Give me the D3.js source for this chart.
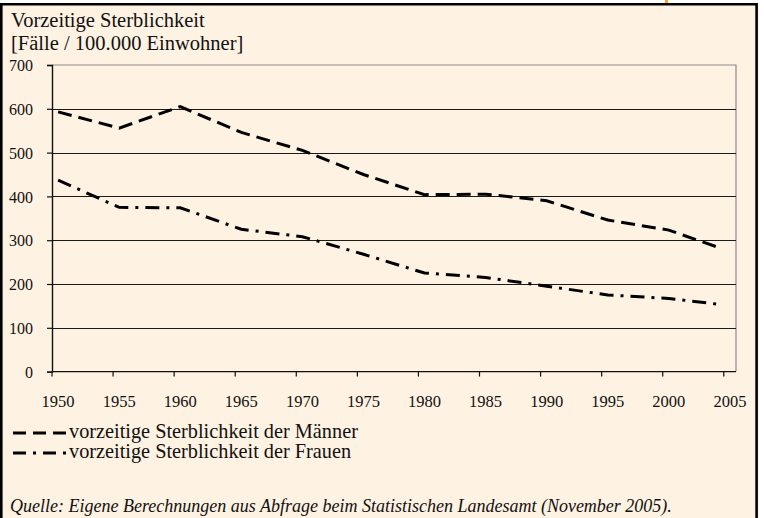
<!DOCTYPE html>
<html>
<head>
<meta charset="utf-8">
<script src="https://cdn.jsdelivr.net/npm/d3@7/dist/d3.min.js"></script>
<style>
  html, body { margin: 0; padding: 0; background: #ffffff; }
  svg { display: block; }
  svg text { font-family: "Liberation Serif", "Times New Roman", "DejaVu Serif", serif; fill: #111; }
</style>
</head>
<body>
<svg id="chart" width="764" height="518"></svg>
<script>
// Premature mortality per 100,000 inhabitants
const categories = d3.range(1950, 2006);          // yearly category axis 1950..2005
const dataYears = [1950, 1955, 1960, 1965, 1970, 1975, 1980, 1985, 1990, 1995, 2000, 2004];
const maenner   = [593, 556, 605, 546, 505, 450, 404, 405, 390, 346, 323, 284];
const frauen    = [437, 375, 374, 325, 308, 268, 225, 215, 195, 175, 167, 154];
const yTicks = [0, 100, 200, 300, 400, 500, 600, 700];
const xTickLabels = [1950, 1955, 1960, 1965, 1970, 1975, 1980, 1985, 1990, 1995, 2000, 2005];

const titleLines = ["Vorzeitige Sterblichkeit", "[Fälle / 100.000 Einwohner]"];
const legendLabels = ["vorzeitige Sterblichkeit der Männer", "vorzeitige Sterblichkeit der Frauen"];
const sourceText = "Quelle: Eigene Berechnungen aus Abfrage beim Statistischen Landesamt (November 2005).";

const FONT = '"Liberation Serif", "Times New Roman", serif';
const svg = d3.select("#chart");

// panel background and frame
svg.append("rect").attr("x", 0).attr("y", 3).attr("width", 759).attr("height", 515).attr("fill", "#fef2e2");
svg.append("path")
  .attr("d", "M1.3,518 V4.2 H756.6 V518")
  .attr("fill", "none").attr("stroke", "#000").attr("stroke-width", 2.6);
svg.append("rect").attr("x", 665).attr("y", 0).attr("width", 3).attr("height", 3).attr("fill", "#f5a623");

const plotL = 52, plotR = 736, plotT = 65, plotB = 371.6;

const x = d3.scaleBand().domain(categories).range([plotL, plotR]).padding(0);
const y = d3.scaleLinear().domain([0, 700]).range([plotB, plotT]);
const cx = yr => x(yr) + x.bandwidth() / 2;

// plot area outline (top/right in grey)
svg.append("path")
  .attr("d", `M${plotL},${plotT} H${plotR} V${plotB}`)
  .attr("fill", "none").attr("stroke", "#8a8a8a").attr("stroke-width", 1.2);

// horizontal gridlines
svg.append("g").selectAll("line")
  .data(yTicks.filter(v => v > 0 && v < 700))
  .join("line")
  .attr("x1", plotL).attr("x2", plotR)
  .attr("y1", d => Math.round(y(d)) + 0.5).attr("y2", d => Math.round(y(d)) + 0.5)
  .attr("stroke", "#1a1a1a").attr("stroke-width", 1);

// y axis
const yAxis = d3.axisLeft(y).tickValues(yTicks).tickSize(5).tickPadding(14).tickFormat(d3.format("d"));
const gy = svg.append("g").attr("transform", `translate(${plotL},0)`).call(yAxis)
  .attr("font-family", FONT);
gy.select(".domain").attr("stroke", "#111").attr("stroke-width", 1.4);
gy.selectAll(".tick line").attr("stroke", "#111").attr("stroke-width", 1.2);
gy.selectAll(".tick text").attr("font-size", 16).attr("fill", "#111").attr("dy", "0.36em");

// x axis: ticks on category boundaries every 5 years, labels centred on categories
const gx = svg.append("g").attr("transform", `translate(0,${plotB})`).attr("font-family", FONT);
gx.append("line").attr("x1", plotL).attr("x2", plotR).attr("y1", 0).attr("y2", 0)
  .attr("stroke", "#111").attr("stroke-width", 1.4);
gx.selectAll("line.tk").data(xTickLabels).join("line").attr("class", "tk")
  .attr("x1", d => x(d)).attr("x2", d => x(d)).attr("y1", 0).attr("y2", 5)
  .attr("stroke", "#111").attr("stroke-width", 1.2);
gx.selectAll("text").data(xTickLabels).join("text")
  .attr("x", d => cx(d)).attr("y", 35)
  .attr("text-anchor", "middle").attr("font-size", 16.5)
  .text(d => d);

// series lines
const line = d3.line().x((d, i) => cx(dataYears[i])).y(d => y(d));
const series = [
  { values: maenner, dash: "14,7" },
  { values: frauen, dash: "14,7,3,7" }
];
svg.append("g").selectAll("path")
  .data(series).join("path")
  .attr("d", d => line(d.values))
  .attr("fill", "none").attr("stroke", "#000").attr("stroke-width", 3)
  .attr("stroke-dasharray", d => d.dash);

// title
svg.append("g").attr("font-family", FONT).selectAll("text").data(titleLines).join("text")
  .attr("x", 11).attr("y", (d, i) => 27 + i * 23)
  .attr("font-size", 20.5).text(d => d);

// legend
const lg = svg.append("g").attr("font-family", FONT).selectAll("g").data(series).join("g")
  .attr("transform", (d, i) => `translate(0,${433 + i * 20})`);
lg.append("line").attr("x1", 13).attr("x2", 67).attr("y1", 0).attr("y2", 0)
  .attr("stroke", "#000").attr("stroke-width", 3)
  .attr("stroke-dasharray", (d, i) => i === 0 ? "13,7" : "13,7,3,7");
lg.append("text").attr("x", 69).attr("y", 5).attr("font-size", 20.3)
  .text((d, i) => legendLabels[i]);

// source note
svg.append("text").attr("x", 10).attr("y", 512).attr("font-size", 18)
  .attr("font-family", FONT)
  .attr("font-style", "italic").text(sourceText);
</script>
</body>
</html>
